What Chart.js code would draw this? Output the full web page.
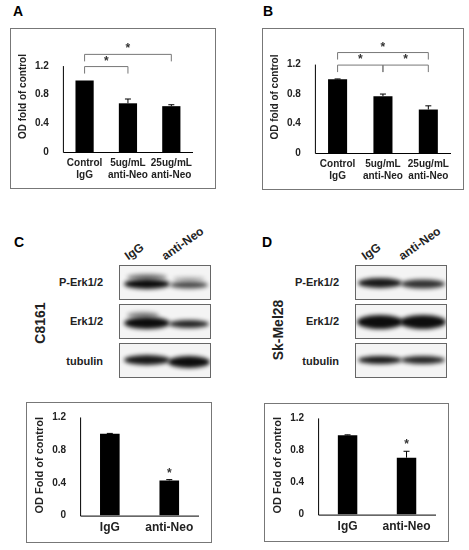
<!DOCTYPE html>
<html><head><meta charset="utf-8">
<script src="https://cdn.jsdelivr.net/npm/chart.js@4"></script>
<style>
body{margin:0;width:469px;height:550px;background:#fff;position:relative;font-family:"Liberation Sans",Arial,sans-serif;overflow:hidden}
.box{position:absolute;border:1px solid #777;box-sizing:border-box}
.lab{position:absolute;font-weight:bold;font-size:14px}
.t{position:absolute;font-weight:bold;font-size:11px;color:#222;white-space:nowrap}
canvas{position:absolute}
</style></head><body>
<div class="lab" style="left:13px;top:3px">A</div>
<div class="lab" style="left:263px;top:3px">B</div>
<div class="lab" style="left:14px;top:234px">C</div>
<div class="lab" style="left:262px;top:234px">D</div>
<div class="box" style="left:10px;top:28px;width:206px;height:161px"></div>
<div class="box" style="left:262px;top:28px;width:202px;height:162px"></div>
<div class="box" style="left:26px;top:402px;width:186px;height:141px"></div>
<div class="box" style="left:264px;top:403px;width:185px;height:139px"></div>
<canvas id="cA" style="left:11px;top:29px" width="204" height="159"></canvas>
<canvas id="cB" style="left:263px;top:29px" width="200" height="160"></canvas>
<canvas id="cC" style="left:27px;top:403px" width="184" height="139"></canvas>
<canvas id="cD" style="left:265px;top:404px" width="183" height="137"></canvas>
<canvas id="bC" style="left:119px;top:265px" width="92" height="115"></canvas>
<canvas id="bD" style="left:355px;top:265px" width="92" height="115"></canvas>
<div class="t" style="right:366px;top:276px">P-Erk1/2</div>
<div class="t" style="right:366px;top:315px">Erk1/2</div>
<div class="t" style="right:366px;top:355px">tubulin</div>
<div class="t" style="right:130px;top:276px">P-Erk1/2</div>
<div class="t" style="right:130px;top:315px">Erk1/2</div>
<div class="t" style="right:130px;top:355px">tubulin</div>
<div class="t" style="left:130px;top:249px;font-size:12px;transform:rotate(-35deg);transform-origin:left bottom">IgG</div>
<div class="t" style="left:167px;top:249px;font-size:12px;transform:rotate(-35deg);transform-origin:left bottom">anti-Neo</div>
<div class="t" style="left:367px;top:249px;font-size:12px;transform:rotate(-35deg);transform-origin:left bottom">IgG</div>
<div class="t" style="left:404px;top:249px;font-size:12px;transform:rotate(-35deg);transform-origin:left bottom">anti-Neo</div>
<div class="t" style="left:40px;top:323px;font-size:14px;transform:translate(-50%,-50%) rotate(-90deg)">C8161</div>
<div class="t" style="left:278px;top:330px;font-size:14px;transform:translate(-50%,-50%) rotate(-90deg)">Sk-Mel28</div>
<script>
const catsAB=[["Control","IgG"],["5ug/mL","anti-Neo"],["25ug/mL","anti-Neo"]];
const valsA=[1.0,0.68,0.64], errA=[0,0.06,0.02];
const valsB=[1.0,0.77,0.59], errB=[0.005,0.03,0.05];
const catsCD=["IgG","anti-Neo"];
const valsC=[1.0,0.43], errC=[0.005,0.01];
const valsD=[0.99,0.71], errD=[0.005,0.08];
const ticks=[0,0.4,0.8,1.2];
const brA=[[0,1,1.2],[0,2,1.37]];
const brB=[[0,1,1.2],[1,2,1.2],[0,2,1.37]];
const starsC=[1], starsD=[1];

const deco={id:'deco',afterDatasetsDraw(ch,a,o){
 const c=ch.ctx,x=ch.scales.x,y=ch.scales.y,m=ch.getDatasetMeta(0),d=ch.data.datasets[0];
 c.save();c.strokeStyle='#000';c.lineWidth=1;
 c.beginPath();c.moveTo(x.left+0.5,y.getPixelForValue(1.2));c.lineTo(x.left+0.5,y.getPixelForValue(0)+0.5);c.lineTo(x.right,y.getPixelForValue(0)+0.5);c.stroke();
 m.data.forEach((b,i)=>{const e=o.err[i];if(!e)return;const t=y.getPixelForValue(d.data[i]+e);
  c.beginPath();c.moveTo(b.x,b.y);c.lineTo(b.x,t);c.moveTo(b.x-3,t);c.lineTo(b.x+3,t);c.stroke();});
 c.fillStyle='#333';c.font='bold 12px Liberation Sans';c.textAlign='center';
 c.strokeStyle='#777';
 (o.br||[]).forEach(([i,j,v])=>{const yy=y.getPixelForValue(v)+0.5,x1=m.data[i].x,x2=m.data[j].x;
  c.beginPath();c.moveTo(x1,yy+7);c.lineTo(x1,yy);c.lineTo(x2,yy);c.lineTo(x2,yy+7);c.stroke();
  c.fillText('*',(x1+x2)/2,yy-2);});
 (o.stars||[]).forEach(i=>{const b=m.data[i];c.fillText('*',b.x,y.getPixelForValue(d.data[i]+o.err[i])-3);});
 c.restore();}};

function mk(id,cats,vals,err,opt){
 new Chart(document.getElementById(id),{type:'bar',
  data:{labels:cats,datasets:[{data:vals,backgroundColor:'#000',barPercentage:opt.bp,categoryPercentage:1}]},
  plugins:[deco],
  options:{responsive:false,animation:false,events:[],
   layout:{padding:opt.pad},
   plugins:{legend:{display:false},tooltip:{enabled:false},deco:{err,br:opt.br,stars:opt.stars}},
   scales:{x:{grid:{display:false,drawTicks:false},border:{display:false},
     ticks:{color:'#222',font:{weight:'bold',size:opt.xf,family:'Liberation Sans'},padding:opt.xp,maxRotation:0,autoSkip:false}},
    y:{min:0,max:opt.ymax,grid:{display:false},border:{display:false},afterBuildTicks:s=>{s.ticks=ticks.map(v=>({value:v}));},
     ticks:{color:'#222',font:{weight:'bold',size:10,family:'Liberation Sans'},padding:6,callback:v=>String(v)},
     title:{display:true,text:opt.title,color:'#222',font:{weight:'bold',size:opt.tf,family:'Liberation Sans'},padding:0}}}}});
}
mk('cA',catsAB,valsA,errA,{bp:0.42,pad:{left:6,right:22,top:2,bottom:2},br:brA,ymax:1.55,xf:10,xp:5,tf:10,title:'OD fold of control'});
mk('cB',catsAB,valsB,errB,{bp:0.42,pad:{left:6,right:12,top:4,bottom:2},br:brB,ymax:1.52,xf:10,xp:5,tf:10,title:'OD fold of control'});
mk('cC',catsCD,valsC,errC,{bp:0.33,pad:{left:6,right:12,top:6,bottom:2},stars:starsC,ymax:1.23,xf:12,xp:5,tf:11,title:'OD Fold of control'});
mk('cD',catsCD,valsD,errD,{bp:0.33,pad:{left:6,right:12,top:4,bottom:2},stars:starsD,ymax:1.23,xf:12,xp:5,tf:11,title:'OD Fold of control'});

function blot(id,bands){
 const cv=document.getElementById(id),c=cv.getContext('2d');
 bands.forEach((row,r)=>{const y0=r*39+1;
  c.fillStyle='#f4f4f4';c.fillRect(1,y0,90,33);c.strokeStyle='#666';c.strokeRect(0.5,y0-0.5,91,34);
  c.save();c.beginPath();c.rect(1,y0,90,33);c.clip();c.filter='blur(2px)';
  row.forEach(([cx,cy,w,h,a])=>{c.fillStyle='rgba(0,0,0,'+a+')';c.beginPath();c.ellipse(cx,y0+cy,w,h,0,0,7);c.fill();});
  c.restore();});
}
blot('bC',[[[28,18,23,5,0.95],[28,11,20,3,0.5],[70,19,19,3.5,0.7],[70,13,16,2,0.3]],
 [[28,18,23,6,0.95],[24,10,16,3,0.45],[70,19,20,4,0.85]],
 [[28,16,23,5,0.9],[70,18,21,6,0.95]]]);
blot('bD',[[[25,17,22,5,0.9],[68,18,22,4.5,0.8]],
 [[25,17,23,7,0.95],[68,17,23,7,0.95]],
 [[25,16,22,4,0.9],[68,16,22,4,0.85]]]);
</script></body></html>
